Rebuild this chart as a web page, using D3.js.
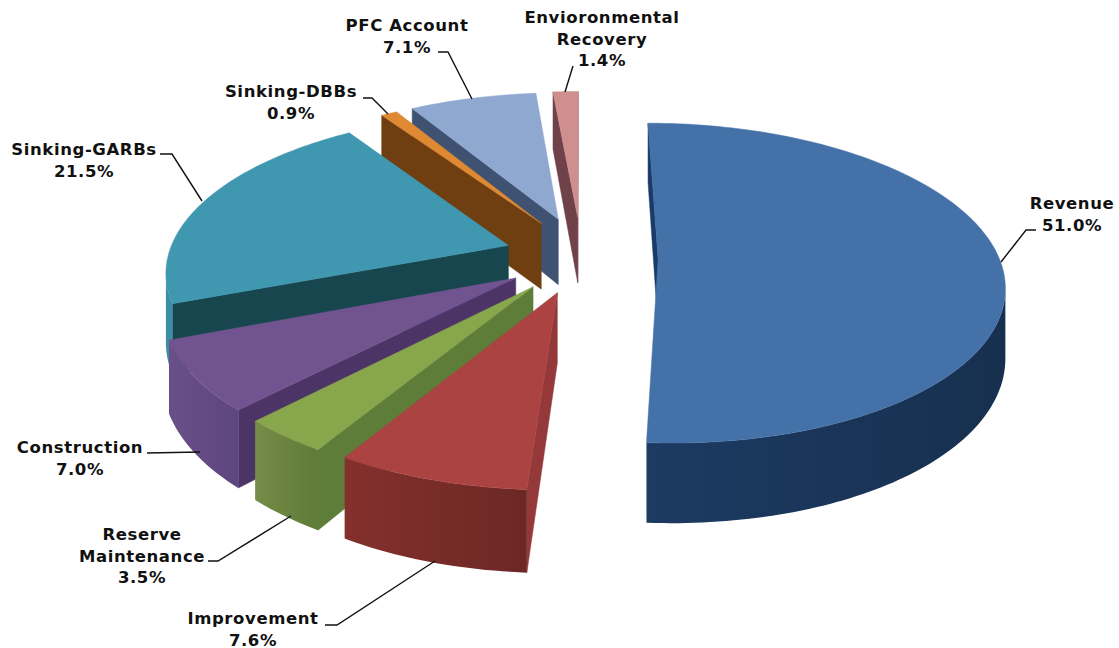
<!DOCTYPE html>
<html><head><meta charset="utf-8">
<script src="https://cdn.jsdelivr.net/npm/d3@7"></script>
<style>html,body{margin:0;padding:0;background:#fff;overflow:hidden}
text{font-family:"DejaVu Sans",Verdana,sans-serif;font-weight:bold;font-size:16.5px;letter-spacing:.6px;fill:#111;text-anchor:middle}</style>
</head><body><svg id="c" width="1119" height="648"></svg>
<script>
// ---- data
const categories = ["Revenue","Improvement","Reserve Maintenance","Construction","Sinking-GARBs","Sinking-DBBs","PFC Account","Envioronmental Recovery"];
const shares = [51.0,7.6,3.5,7.0,21.5,0.9,7.1,1.4];
// ---- styles
const topColors  = ["#4471a8","#aa4341","#88a64c","#71548f","#3f97b0","#df8a33","#8fa8d0","#cf8f8e"];
const rimColors  = [["#1c3a62","#17304f"],["#84302d","#6c2825"],["#748d48","#5f7b38"],["#6a5088","#5d4580"],["#3b8ea5","#3b8ea5"],["#7a4512","#7a4512"],["#3f5478","#3f5478"],["#6f4348","#6f4348"]];
const cutColors  = ["#1a3a68","#94383a","#5d7d38","#4c3466","#17464f","#6f3f12","#3f5272","#6e4248"];
// ---- label layout: lines, centre x, first baseline, leader polyline
const labelLines = [["Revenue"],["Improvement"],["Reserve","Maintenance"],["Construction"],["Sinking-GARBs"],["Sinking-DBBs"],["PFC Account"],["Envioronmental","Recovery"]];
const labelX = [1072,253,142,80,84,291,407,602];
const labelY = [209,624,540,453,155,97,31,23];
const leaders = [
 [[1001,262],[1026,230],[1036,230]],
 [[325,625],[337,625],[435,561]],
 [[208,561],[218,561],[291,516]],
 [[147,453],[200,452]],
 [[160,154],[172,154],[202,201]],
 [[363,98],[372,98],[388,114]],
 [[438,52],[448,52],[472,99]],
 [[573,66],[565,92]]
];
// ---- projection
const cx=581, cy=258, Rx=341, Ry=156, H=68, K=0.15, explode=0.226, backLift=1.2;
const project=(X,Y,Z)=>{const s=1/(1+K*Y);return [cx+Rx*X*s, cy-Ry*Y*s+H*Z*s];};

const svg=d3.select("#c");
const defs=svg.append("defs");
const pie=d3.pie().sort(null).value(d=>d)(shares);
const line=d3.line();
const area=p=>d3.polygonArea(p);

// back-to-front paint order
const order=[7,6,5,4,3,2,1,0];
order.forEach(i=>{
  const d=pie[i], a0=d.startAngle, a1=d.endAngle, mid=(a0+a1)/2;
  const ox=Math.sin(mid)*explode, oy=Math.cos(mid)*explode*(Math.cos(mid)>0?backLift:1);
  const at=(a,z)=>project(ox+Math.sin(a),oy+Math.cos(a),z);
  const apex=z=>project(ox,oy,z);
  const n=Math.max(6,Math.ceil((a1-a0)/0.02));
  const angs=d3.range(n+1).map(j=>d3.interpolateNumber(a0,a1)(j/n));
  const g=svg.append("g").attr("class","slice");
  const topPts=[apex(0),...angs.map(a=>at(a,0))];
  const ref=Math.sign(area(topPts));
  // radial cut faces (visible when wound opposite to the top face)
  [[apex(0),at(a0,0),at(a0,1),apex(1)],[at(a1,0),apex(0),apex(1),at(a1,1)]].forEach(q=>{
    if(Math.sign(area(q))!==ref)
      g.append("path").attr("d",line(q)+"Z").attr("fill",cutColors[i]).attr("stroke",cutColors[i]).attr("stroke-width",.5);
  });
  // outer wall: visible runs only
  let run=[];
  const flush=()=>{
    if(run.length>1){
      const up=run.map(a=>at(a,0)), dn=run.map(a=>at(a,1)).reverse();
      const id="w"+i+"_"+Math.round(run[0]*100);
      const xs=up.map(p=>p[0]);
      const gr=defs.append("linearGradient").attr("id",id).attr("gradientUnits","userSpaceOnUse")
        .attr("x1",d3.min(xs)).attr("x2",d3.max(xs)).attr("y1",0).attr("y2",0);
      gr.append("stop").attr("offset",0).attr("stop-color",rimColors[i][0]);
      gr.append("stop").attr("offset",1).attr("stop-color",rimColors[i][1]);
      g.append("path").attr("d",line([...up,...dn])+"Z").attr("fill",`url(#${id})`);
    }
    run=[];
  };
  for(let j=0;j<n;j++){
    const q=[at(angs[j],0),at(angs[j+1],0),at(angs[j+1],1),at(angs[j],1)];
    if(Math.sign(area(q))!==ref){ if(!run.length) run.push(angs[j]); run.push(angs[j+1]); }
    else flush();
  }
  flush();
  // top face
  g.append("path").attr("d",line(topPts)+"Z").attr("fill",topColors[i]).attr("stroke",topColors[i]).attr("stroke-width",.5);
});

// leaders and labels
shares.forEach((v,i)=>{
  svg.append("path").attr("d",line(leaders[i])).attr("fill","none").attr("stroke","#111").attr("stroke-width",1.4);
  const t=svg.append("text").attr("x",labelX[i]);
  [...labelLines[i],d3.format(".1f")(v)+"%"].forEach((s,k)=>{
    t.append("tspan").attr("x",labelX[i]).attr("y",labelY[i]+k*21.5).text(s);
  });
});
</script></body></html>
